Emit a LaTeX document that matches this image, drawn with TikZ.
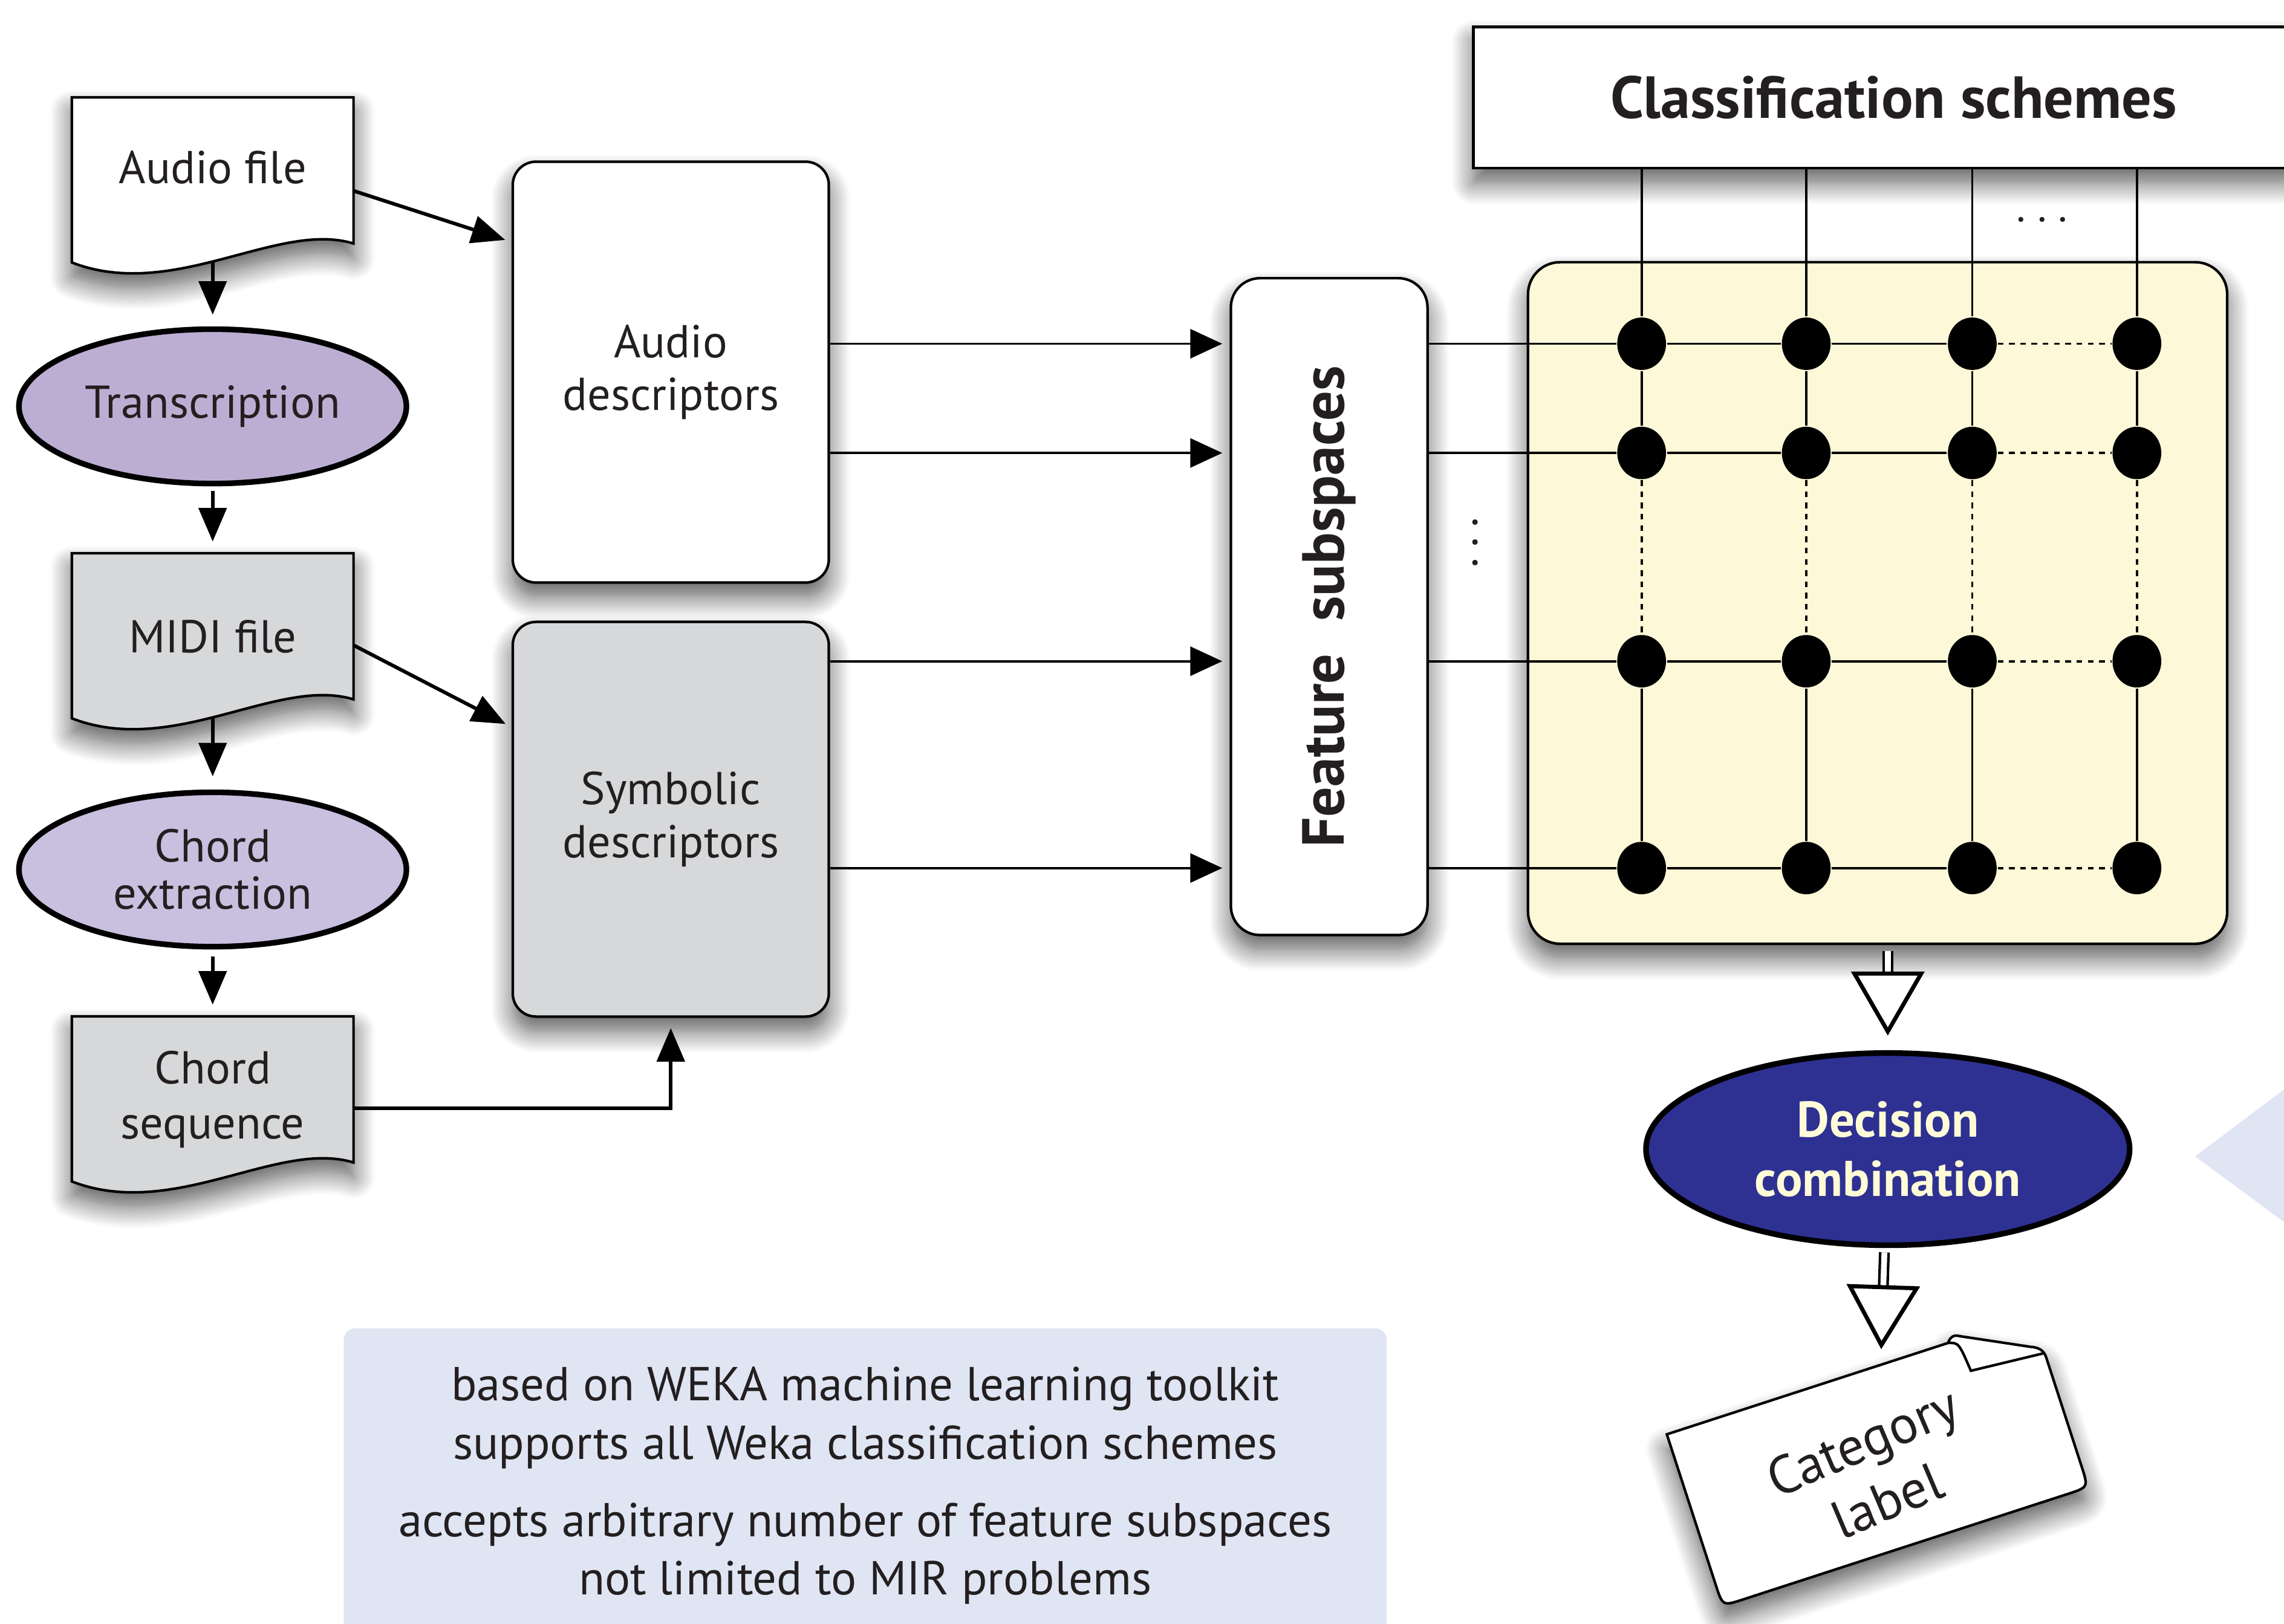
\documentclass[tikz,border=0pt]{standalone}
\usepackage{fontspec}
\setmainfont{PT Sans}
\usetikzlibrary{arrows.meta,calc,shapes.geometric,shadows.blur}

\definecolor{txtgray}{RGB}{35,31,32}
\definecolor{docgray}{RGB}{215,216,218}
\definecolor{lilac}{RGB}{188,174,211}
\definecolor{lilaclight}{RGB}{201,191,223}
\definecolor{gridyellow}{RGB}{253,249,216}
\definecolor{navy}{RGB}{46,49,146}
\definecolor{cream}{RGB}{255,251,214}
\definecolor{infoblue}{RGB}{223,229,242}

\tikzset{
  shade box/.style={blur shadow={shadow xshift=0mm, shadow yshift=-1mm, shadow blur radius=1.5mm, shadow blur steps=12, shadow opacity=65}},
  doc/.style={minimum width=19.2mm, minimum height=9.9mm, inner sep=0pt},
  proc/.style={ellipse, draw, line width=1.1pt, minimum width=26.6mm, minimum height=10.6mm, inner sep=0pt, align=center},
  descbox/.style={draw, line width=0.5pt, rounded corners=1.6mm, minimum width=21.7mm, align=center, shade box},
  arr/.style={line width=0.7pt, draw opacity=1, fill opacity=1, -{Triangle[length=2.3mm, width=1.9mm, fill=black]}},
  thinarr/.style={line width=0.45pt, draw opacity=1, fill opacity=1, -{Triangle[length=2.2mm, width=2mm, fill=black]}},
  gridline/.style={line width=0.45pt},
  griddash/.style={line width=0.45pt, dash pattern=on 1.1pt off 1.1pt},
  dot/.style={ellipse, fill=black, minimum width=3.35mm, minimum height=3.6mm, inner sep=0pt},
  dblarrow/.style={double, double distance=0.4mm, line width=0.5pt, draw opacity=1, fill opacity=1, -{Triangle[length=4.4mm, width=5mm, fill=white, line width=0.8pt]}},
}

\begin{document}
\begin{tikzpicture}[x=0.1mm, y=-0.1mm, font=\fontsize{9}{10.3}\selectfont, text=txtgray]
\useasboundingbox (0,0) rectangle (1568,1115);

\node[doc] (audio) at (146,117) {};
\node[doc] (midi) at (146,430) {};
\node[doc] (chordseq) at (146,748) {};
\foreach \n/\c in {audio/white, midi/docgray, chordseq/docgray}
  \draw[line width=0.5pt, fill=\c, shade box] (\n.north west) -- (\n.north east) -- (\n.south east)
    .. controls +(-52,-16) and +(70,27) .. ($(\n.south west)+(0,13)$) -- cycle;
\node (audiotext) at ($(audio)+(0,-2)$) {Audio file};
\node (miditext) at ($(midi)+(0,7)$) {MIDI file};
\node[align=center, font=\fontsize{9}{10.8}\selectfont] (chordseqtext) at ($(chordseq)+(0,7)$) {Chord\\sequence};

\node[proc, fill=lilac] (trans) at (146,279) {Transcription};
\node[proc, fill=lilaclight, font=\fontsize{9}{9.2}\selectfont] (chordext) at (146,597) {Chord\\extraction};

\node[descbox, minimum height=28.9mm, fill=white] (adesc) at (460.5,255.5) {Audio\\descriptors};
\node[descbox, minimum height=27.1mm, fill=docgray] (sdesc) at (460.5,562.5) {Symbolic\\descriptors};

\draw[arr, shorten <=1.2mm, shorten >=0.8mm] (audio.south) -- (trans.north);
\draw[arr, shorten <=0.3mm, shorten >=0.8mm] (trans) -- (midi);
\draw[arr, shorten <=1.3mm, shorten >=0.9mm] (midi.south) -- (chordext.north);
\draw[arr, shorten <=0.5mm, shorten >=0.8mm] (chordext) -- (chordseq);
\draw[arr, shorten >=0.45mm] ($(audio.east)+(0,14)$) -- ($(adesc.north west)+(0,56)$);
\draw[arr, shorten >=0.45mm] ($(midi.east)+(0,13)$) -- ($(sdesc.north west)+(0,73)$);
\draw[arr, shorten >=0.7mm] ($(chordseq.east)+(0,13)$) -| (sdesc.south);

\node[descbox, minimum width=13.5mm, minimum height=45.1mm, rounded corners=2mm, fill=white] (feat) at (912.5,416.5)
  {\rotatebox{90}{\fontsize{11.6}{13}\selectfont\bfseries Feature\hspace{0.55em}subspaces}};

\node[draw, line width=0.5pt, rounded corners=2.2mm, fill=gridyellow, minimum width=48mm, minimum height=46.8mm, shade box] (grid) at (1289,414) {};
\node[draw, line width=0.5pt, fill=white, minimum width=57.7mm, minimum height=9.7mm, shade box,
  font=\fontsize{11.6}{13}\selectfont\bfseries] (cls) at (1300,67) {Classification schemes};

\foreach \r/\y in {1/236,2/311,3/454,4/596}
  \foreach \c/\x in {1/1127,2/1240,3/1354,4/1467}
    \node[dot] (d\r\c) at (\x,\y) {};

\foreach \r in {1,2}
  \draw[thinarr, shorten >=0.5mm] (adesc.east |- d\r1) -- (feat.west |- d\r1);
\foreach \r in {3,4}
  \draw[thinarr, shorten >=0.5mm] (sdesc.east |- d\r1) -- (feat.west |- d\r1);

\foreach \r in {1,...,4}{
  \draw[gridline] (feat.east |- d\r1) -- (d\r1) -- (d\r2) -- (d\r3);
  \draw[griddash] (d\r3) -- (d\r4);
}
\foreach \c in {1,...,4}{
  \draw[gridline] (cls.south -| d1\c) -- (d1\c) -- (d2\c);
  \draw[griddash] (d2\c) -- (d3\c);
  \draw[gridline] (d3\c) -- (d4\c);
}
\node (hdots) at (1402,151) {$\ldots$};
\node (vdots) at (1013,362) {$\vdots$};

\node[ellipse, draw, line width=1.1pt, fill=navy, text=cream, font=\fontsize{9.8}{11.5}\selectfont\bfseries,
  minimum width=33.2mm, minimum height=13.2mm, inner sep=0pt, align=center] (decision) at (1296,789) {Decision\\combination};

\node[rotate=18, minimum width=26.4mm, minimum height=12.4mm, inner sep=0pt] (cat) at (1289,1003) {};
\begin{scope}[shift={(cat.center)}, rotate=18]
\draw[line width=0.5pt, fill=white, shade box] (-132,-62) -- (71,-62) .. controls (74,-66) and (77,-66) .. (80,-64)
  -- (124,-42) .. controls (129,-40) and (132,-37) .. (132,-32) -- (132,47) .. controls (132,62) .. (117,62)
  -- (-117,62) .. controls (-132,62) .. (-132,47) -- cycle;
\draw[line width=0.5pt] (71,-62) .. controls (78,-60) .. (80,-39) -- (131,-35);
\end{scope}
\node[rotate=23, align=center, font=\fontsize{10.5}{12.5}\selectfont] (catlabel) at (1287,1010) {Category\\label};

\draw[dblarrow, shorten <=0.4mm, shorten >=1mm] (grid.south -| decision) -- (decision);
\draw[dblarrow, shorten <=0.3mm, shorten >=1mm] (decision) -- (cat);

\fill[infoblue] (1507,794) -- (1568,748) -- (1568,839) -- cycle;
\node[fill=infoblue, rounded corners=0.8mm, minimum width=71.6mm, minimum height=22.3mm] (info) at (594,1023.5) {};
\node[align=center, font=\fontsize{9.3}{11.4}\selectfont] (infotext) at (594,1020) {based on WEKA machine learning toolkit\\supports all Weka classification schemes\\[1.3mm]
  accepts arbitrary number of feature subspaces\\not limited to MIR problems};
\end{tikzpicture}
\end{document}
